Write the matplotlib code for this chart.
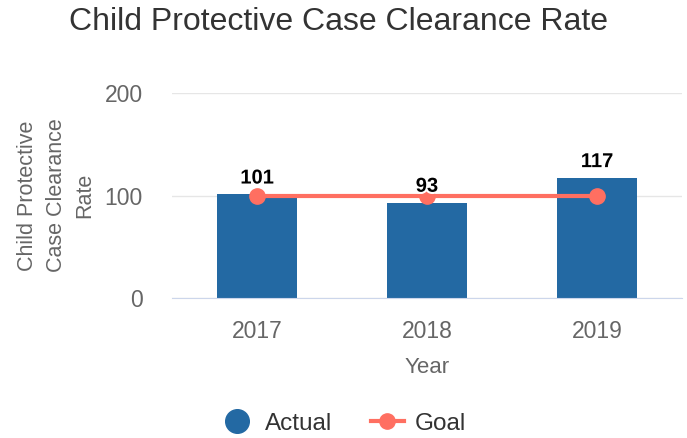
import matplotlib
matplotlib.use('Agg')
import matplotlib.pyplot as plt
import matplotlib.patheffects as pe
from matplotlib.lines import Line2D
import numpy as np

plt.rcParams['font.family'] = ['Liberation Sans', 'DejaVu Sans']

# Chart data
years = ['2017', '2018', '2019']
actual = [101, 93, 117]
goal = [100, 100, 100]
yticks = [0, 100, 200]

bar_color = '#2369a3'
goal_color = '#ff6f61'

fig = plt.figure(figsize=(6.87, 4.38), dpi=100)
ax = fig.add_axes([172 / 687, 0.3196, 510 / 687, 0.4681])

x = np.arange(len(years))
ax.bar(x, actual, width=0.47, color=bar_color, zorder=2)
ax.plot(x, goal, color=goal_color, linewidth=3, marker='o', markersize=11, zorder=3)

# value labels above the bars
for xi, v in zip(x, actual):
    ax.annotate(str(v), (xi, v), xytext=(0, 5), textcoords='offset points',
                ha='center', va='bottom', fontsize=14.5, fontweight='bold',
                color='black', zorder=4,
                path_effects=[pe.withStroke(linewidth=3, foreground='white')])

ax.set_xlim(-0.5, 2.5)
ax.set_ylim(0, 200)
ax.set_xticks(x)
ax.set_xticklabels(years)
ax.set_yticks(yticks)
ax.tick_params(axis='both', length=0, labelsize=16.5, labelcolor='#666666')
ax.tick_params(axis='x', pad=16)
ax.tick_params(axis='y', pad=21)
ax.grid(axis='y', color='#e6e6e6', linewidth=1, zorder=0)
for s in ['top', 'right', 'left']:
    ax.spines[s].set_visible(False)
ax.spines['bottom'].set_color('#ccd6eb')
ax.spines['bottom'].set_zorder(3)

ax.set_xlabel('Year', fontsize=16, color='#666666', labelpad=10)
ax.set_ylabel('Child Protective\nCase Clearance\nRate', fontsize=15.5, color='#666666',
              labelpad=7, linespacing=1.45)

fig.text(0.492, 0.95, 'Child Protective Case Clearance Rate', ha='center', va='center',
         fontsize=23, color='#333333')

handles = [
    Line2D([], [], linestyle='none', marker='o', markersize=17, color=bar_color),
    Line2D([], [], color=goal_color, linewidth=3, marker='o', markersize=11),
]
fig.legend(handles, ['Actual', 'Goal'], loc='center', bbox_to_anchor=(0.5, 0.033),
           ncol=2, frameon=False, fontsize=17.5, handlelength=1.35, handletextpad=0.45,
           columnspacing=1.6, labelcolor='#333333')

fig.savefig('out.png', dpi=100)
